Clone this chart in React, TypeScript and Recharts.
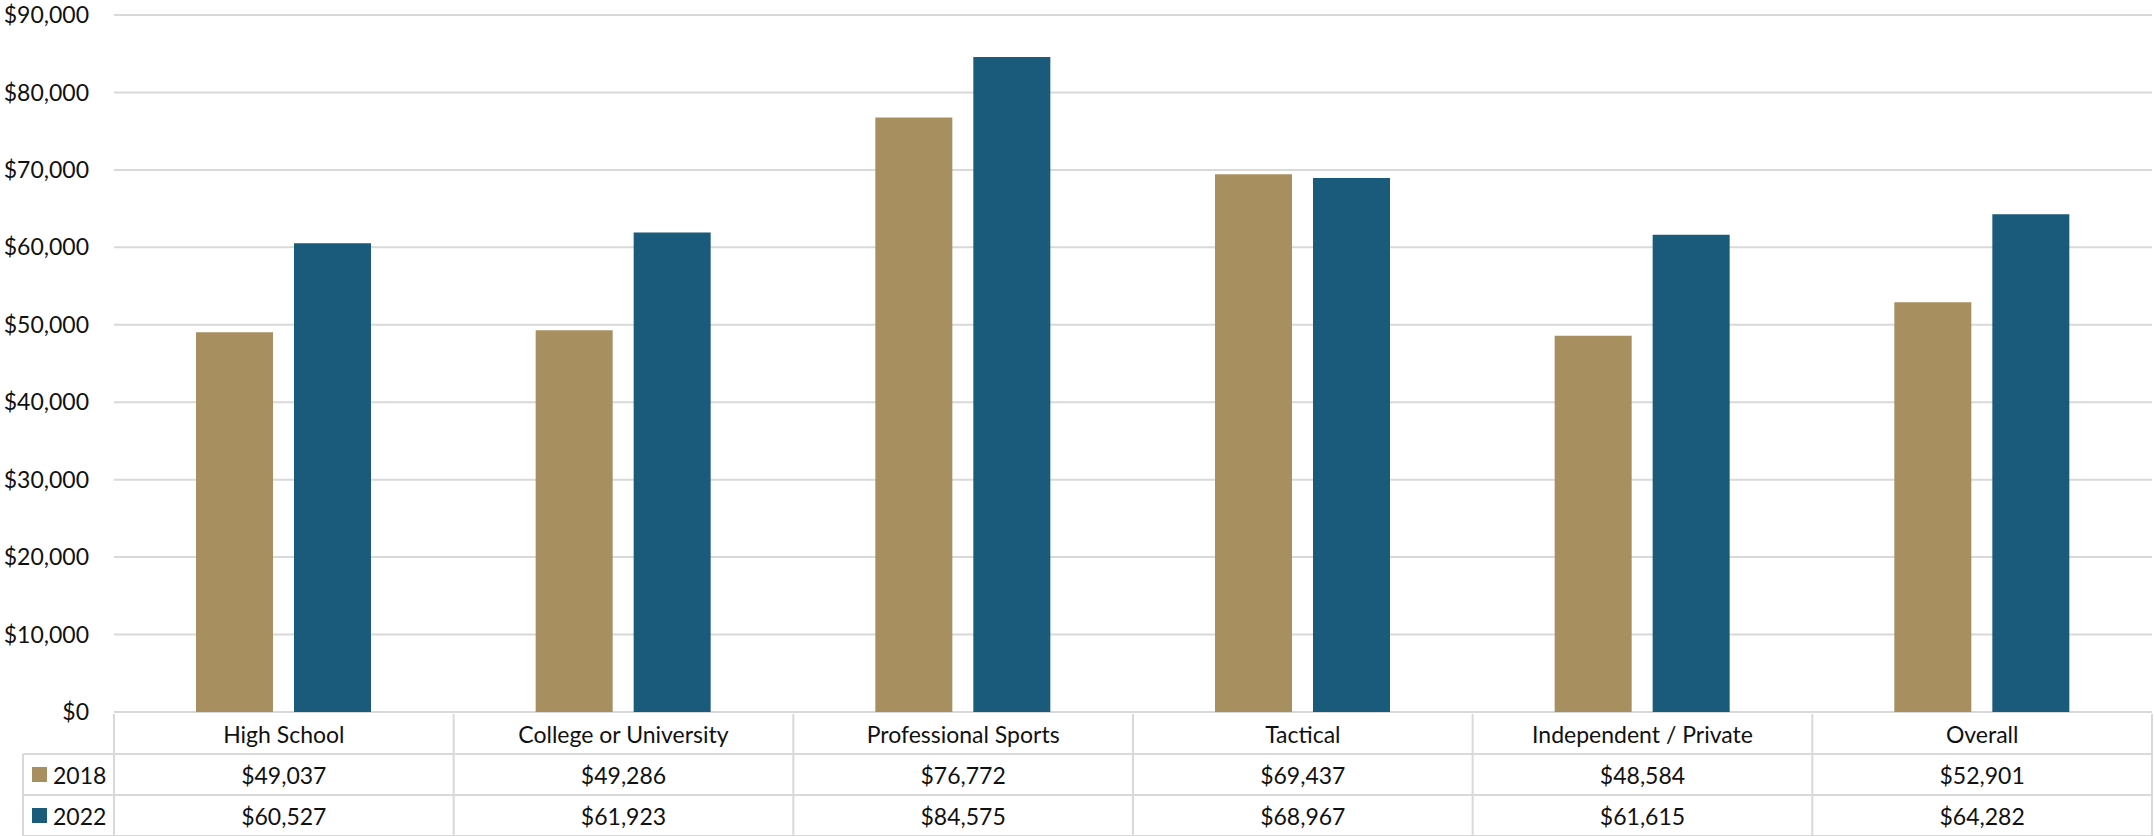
import { Bar, BarChart, CartesianGrid, XAxis, YAxis } from "recharts";

const categories = [
  "High School",
  "College or University",
  "Professional Sports",
  "Tactical",
  "Independent / Private",
  "Overall",
];
const salary2018 = [49037, 49286, 76772, 69437, 48584, 52901];
const salary2022 = [60527, 61923, 84575, 68967, 61615, 64282];
const seriesNames = ["2018", "2022"];
const yTicks = [0, 10000, 20000, 30000, 40000, 50000, 60000, 70000, 80000, 90000];

const COLORS = ["#A78F5F", "#1A5A7B"];
const W = 2154;
const H = 836;
const PLOT_LEFT = 114;
const PLOT_RIGHT = 2;
const COL_W = (W - PLOT_LEFT - PLOT_RIGHT) / categories.length;
const BORDER = "#d9d9d9";
const FONT = "Lato, 'Open Sans', sans-serif";
const TEXT = "#111";

const rows = categories.map((c, i) => ({
  name: c,
  y2018: salary2018[i],
  y2022: salary2022[i],
}));

const money = (v: number) => "$" + v.toLocaleString("en-US");

// x-axis ticks double as the data table under the plot
const TableTick = (props: any) => {
  const { x, y, payload } = props;
  const i = categories.indexOf(payload.value);
  const left = x - COL_W / 2;
  const right = x + COL_W / 2;
  const r1 = y + 40;
  const r2 = y + 81;
  const r3 = y + 122;
  const values = [salary2018[i], salary2022[i]];
  return (
    <g>
      <line x1={left} y1={y} x2={left} y2={r3} stroke={BORDER} strokeWidth={2} />
      {i === categories.length - 1 && (
        <line x1={right} y1={y} x2={right} y2={r3} stroke={BORDER} strokeWidth={2} />
      )}
      <line x1={left} y1={r1} x2={right} y2={r1} stroke={BORDER} strokeWidth={2} />
      <line x1={left} y1={r2} x2={right} y2={r2} stroke={BORDER} strokeWidth={2} />
      <line x1={left} y1={r3} x2={right} y2={r3} stroke={BORDER} strokeWidth={2} />
      <text x={x} y={y + 20} textAnchor="middle" dominantBaseline="central" fontSize={23} fontFamily={FONT} fill={TEXT}>
        {payload.value}
      </text>
      {values.map((v, k) => (
        <text key={k} x={x} y={r1 + 21 + k * 41} textAnchor="middle" dominantBaseline="central" fontSize={23} fontFamily={FONT} fill={TEXT}>
          {money(v)}
        </text>
      ))}
      {i === 0 && (
        <g>
          <line x1={23} y1={r1} x2={left} y2={r1} stroke={BORDER} strokeWidth={2} />
          <line x1={23} y1={r2} x2={left} y2={r2} stroke={BORDER} strokeWidth={2} />
          <line x1={23} y1={r3} x2={left} y2={r3} stroke={BORDER} strokeWidth={2} />
          <line x1={23} y1={r1} x2={23} y2={r3} stroke={BORDER} strokeWidth={2} />
          {seriesNames.map((s, k) => (
            <g key={s}>
              <rect x={32} y={r1 + 13 + k * 41} width={15} height={15} fill={COLORS[k]} />
              <text x={53} y={r1 + 21 + k * 41} dominantBaseline="central" fontSize={23} fontFamily={FONT} fill={TEXT}>
                {s}
              </text>
            </g>
          ))}
        </g>
      )}
    </g>
  );
};

export default function App() {
  return (
    <div style={{ position: "absolute", left: 0, top: 0, background: "#fff" }}>
      <BarChart
        width={W}
        height={H}
        data={rows}
        margin={{ top: 15, right: PLOT_RIGHT, left: 0, bottom: 0 }}
        barSize={77}
        barGap={21}
      >
        <CartesianGrid vertical={false} stroke={BORDER} strokeWidth={2} />
        <XAxis
          dataKey="name"
          height={124}
          interval={0}
          axisLine={false}
          tickLine={false}
          tickSize={0}
          tick={<TableTick />}
        />
        <YAxis
          width={PLOT_LEFT}
          domain={[0, 90000]}
          ticks={yTicks}
          axisLine={false}
          tickLine={false}
          tickSize={0}
          tickMargin={25}
          tickFormatter={money}
          tick={{ fontSize: 23, fontFamily: FONT, fill: TEXT }}
        />
        <Bar dataKey="y2018" name={seriesNames[0]} fill={COLORS[0]} isAnimationActive={false} />
        <Bar dataKey="y2022" name={seriesNames[1]} fill={COLORS[1]} isAnimationActive={false} />
      </BarChart>
    </div>
  );
}
